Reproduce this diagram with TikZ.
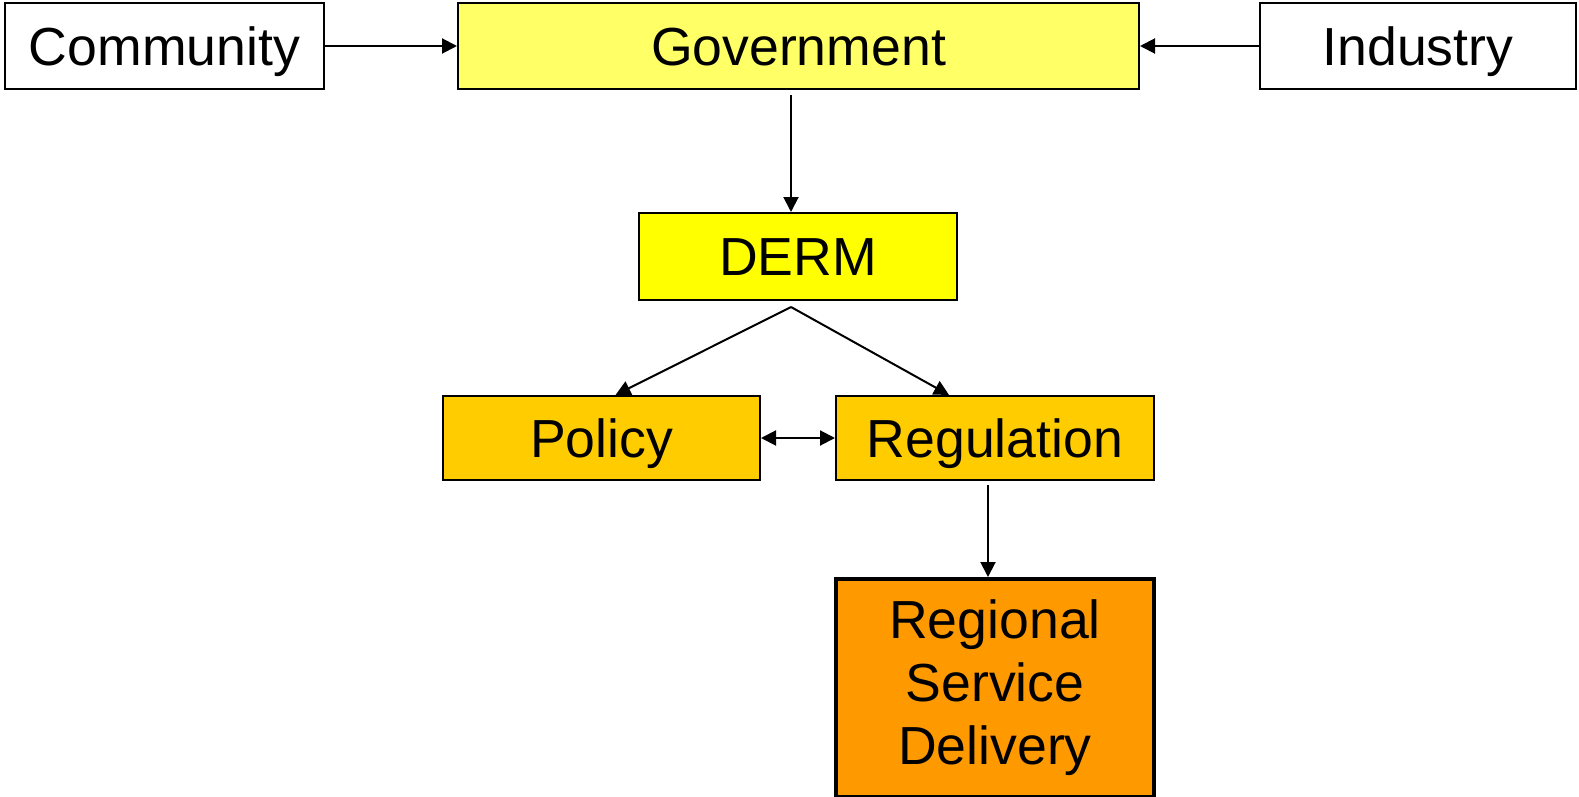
\documentclass[tikz,border=0pt]{standalone}
\usepackage{fontspec}
\setmainfont{Liberation Sans}
\usetikzlibrary{arrows.meta,positioning,calc}
\definecolor{cGov}{HTML}{FFFF66}
\definecolor{cDerm}{HTML}{FFFF00}
\definecolor{cArm}{HTML}{FFCC00}
\definecolor{cRsd}{HTML}{FF9900}
\tikzset{
  box/.style={draw=black,line width=1pt,inner sep=0pt,align=center,
              font=\fontsize{26.8}{31.5}\selectfont,text=black},
  line/.style={box,text height=24.9pt,text depth=5.7pt},
  plain/.style={line,fill=white},
  arr/.style={-{Triangle[length=7.5pt,width=7.5pt]},line width=1pt},
  biarr/.style={{Triangle[length=7.5pt,width=7.5pt]}-{Triangle[length=7.5pt,width=7.5pt]},line width=1pt},
}
\begin{document}
\begin{tikzpicture}[x=0.5pt,y=-0.5pt]
  \useasboundingbox (0,0) rectangle (1579,797);
  % top row
  \node[plain,minimum width=159.5pt,minimum height=43pt](comm) at (164.5,46){Community};
  \node[line,fill=cGov,minimum width=340.5pt,minimum height=43pt](gov) at (798.5,46){Government};
  \node[plain,minimum width=158pt,minimum height=43pt](ind) at (1418,46){Industry};
  % agency and its arms
  \node[line,fill=cDerm,minimum width=159pt,minimum height=43.5pt](derm) at (798,256.5){DERM};
  \node[line,fill=cArm,minimum width=158.5pt,minimum height=42pt](pol) at (601.5,438){Policy};
  \node[line,fill=cArm,minimum width=159pt,minimum height=42pt](reg) at (995,438){Regulation};
  \node[box,fill=cRsd,line width=2pt,minimum width=159pt,minimum height=109pt](rsd) at (995,688)
      {Regional\\Service\\Delivery};
  \coordinate (split) at (791,307);
  % connectors
  \draw[arr] (comm) -- (gov);
  \draw[arr] (ind) -- (gov);
  \draw[arr,shorten <=2.5pt] ([xshift=-3.5pt]derm.north |- gov.south) -- ([xshift=-3.5pt]derm.north);
  \draw[arr] (split) -- ([xshift=7pt]pol.north);
  \draw[arr] (split) -- ([xshift=-23pt]reg.north);
  \draw[biarr] (pol) -- (reg);
  \draw[arr,shorten <=2pt] ([xshift=-3.5pt]reg.south) -- ([xshift=-3.5pt]rsd.north);
\end{tikzpicture}
\end{document}
